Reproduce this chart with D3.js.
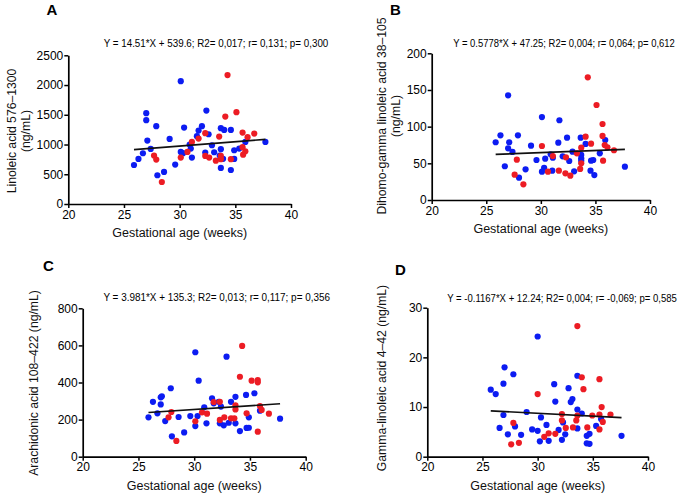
<!DOCTYPE html>
<html><head><meta charset="utf-8">
<script src="https://cdn.jsdelivr.net/npm/d3@7"></script>
<style>
body{margin:0;background:#fff;}
svg{display:block;font-family:"Liberation Sans",Arial,sans-serif;}
</style></head>
<body><svg id="c" width="685" height="497"></svg>
<script>
// ---------- DATA ----------
const panelLetters = ["A","B","C","D"];
const yLabels = [
  ["Linoleic acid 576\u20131300","(ng/mL)"],
  ["Dihomo-gamma linoleic acid 38\u2013105","(ng/mL)"],
  ["Arachidonic acid 108\u2013422 (ng/mL)"],
  ["Gamma-linoleic acid 4\u201342 (ng/mL)"]
];
const xLabel = "Gestational age (weeks)";
const equations = [
  "Y = 14.51*X + 539.6; R2= 0,017; r= 0,131; p= 0,300",
  "Y = 0.5778*X + 47.25; R2= 0,004; r= 0,064; p= 0,612",
  "Y = 3.981*X + 135.3; R2= 0,013; r= 0,117; p= 0,356",
  "Y = -0.1167*X + 12.24; R2= 0,004; r= -0,069; p= 0,585"
];
const slopes = [14.51, 0.5778, 3.981, -0.1167];
const intercepts = [539.6, 47.25, 135.3, 12.24];
const xTicks = [20,25,30,35,40];
const yTicksA = [0,500,1000,1500,2000,2500];
const yTicksB = [0,50,100,150,200];
const yTicksC = [0,200,400,600,800];
const yTicksD = [0,10,20,30];

const aBlue = [[25.9,656],[26.3,758],[26.7,853],[27.0,1527],[27.0,1409],[27.1,1066],[27.4,926],[27.9,1308],[28.0,483],[28.6,539],[29.1,1094],[29.6,662],[30.1,2065],[30.1,876],[30.3,854],[30.4,1285],[30.9,999],[31.0,931],[31.1,780],[31.55,1140],[31.7,1235],[32.0,1308],[32.3,864],[32.4,1571],[32.6,1173],[32.9,988],[33.1,870],[33.6,814],[33.7,921],[33.7,1275],[33.7,606],[33.9,760],[34.0,1246],[34.6,1246],[34.6,572],[34.9,904],[34.9,758],[35.35,931],[35.9,1044],[37.7,1044]];
const aRed = [[27.7,814],[27.9,747],[28.4,370],[30.1,780],[30.7,876],[31.1,1044],[31.7,1100],[32.3,1190],[32.3,808],[32.65,780],[33.25,729],[33.55,1134],[33.7,808],[33.7,753],[34.1,1470],[34.3,2167],[34.6,753],[35.1,1544],[35.65,1201],[35.65,955],[35.7,830],[35.9,887],[36.1,1123],[36.7,1184]];

const bBlue = [[25.86,78.7],[26.3,88.2],[26.7,46],[27.0,142.7],[27.0,70.5],[27.1,78.7],[27.4,65.5],[27.9,88.2],[28.0,30.4],[28.6,41.8],[29.1,74],[29.6,54.5],[30.1,113],[30.1,38.6],[30.3,44],[30.4,56.4],[30.9,62.3],[31.05,40],[31.1,57.7],[31.6,78.2],[31.7,108.7],[32.0,59.6],[32.4,85],[32.6,53.2],[32.9,65.9],[33.05,39.1],[33.65,85],[33.7,61.4],[33.7,56.8],[33.7,53.6],[34.1,76.4],[34.55,40],[34.6,53.6],[34.8,54.5],[34.9,34],[35.4,63.6],[35.9,81.8],[37.7,45.4]];
const bRed = [[27.6,34.5],[27.8,55],[28.4,21.4],[30.1,73.6],[30.65,38.6],[31.1,60],[31.65,40],[32.25,36.4],[32.3,58.2],[32.7,33.2],[33.3,63.6],[33.6,42.3],[33.7,50],[33.7,71.4],[34.1,86.4],[34.3,167.3],[34.6,76.8],[35.1,129.5],[35.65,103.6],[35.65,87.3],[35.7,53.6],[35.85,75],[36.1,71.8],[36.7,67.8]];

const cBlue = [[25.9,212],[26.3,296],[26.7,234],[27.0,320],[27.1,326],[27.0,282],[27.4,192],[27.9,369],[28.0,110],[28.6,214],[29.1,131],[29.65,219],[30.1,563],[30.1,165],[30.3,219],[30.4,410],[30.9,266],[31.1,180],[31.6,315],[31.75,288],[32.2,296],[32.4,270],[32.3,180],[32.65,169],[32.9,539],[33.1,183],[33.3,296],[33.7,323],[33.7,180],[34.1,138],[34.65,333],[34.7,155],[34.9,156],[34.9,212],[35.4,342],[35.9,248],[37.7,205]];
const cRed = [[34.3,597],[34.1,431],[35.15,410],[35.7,413],[35.7,401],[27.95,241],[27.7,212],[28.4,85],[30.1,191],[30.7,239],[31.15,232],[31.75,295],[32.3,296],[32.3,198],[32.7,212],[33.3,207],[33.6,207],[33.7,277],[33.7,255],[34.7,234],[35.7,135],[35.9,273],[36.05,252],[36.7,232]];

const dBlue = [[25.75,13.5],[26.2,12.6],[26.55,5.8],[26.9,14.7],[27.0,18.0],[26.9,8.4],[27.3,4.5],[27.8,16.6],[27.95,6.1],[28.5,4.4],[29.0,9.0],[29.5,5.5],[30.0,24.2],[30.0,5.2],[30.3,7.9],[30.2,3.1],[30.8,6.4],[31.0,3.2],[31.5,14.6],[31.6,11.1],[31.9,5.4],[32.2,3.4],[32.5,4.5],[32.3,6.9],[32.8,13.8],[33.0,11.0],[33.15,11.6],[33.6,16.3],[33.6,9.5],[34.0,8.7],[33.6,5.7],[34.45,4.2],[34.7,4.6],[34.45,2.7],[34.7,2.6],[35.3,6.2],[35.75,7.6],[37.6,4.2]];
const dRed = [[33.6,26.3],[34.0,16.0],[34.15,13.6],[35.6,15.6],[30.0,12.6],[27.8,6.8],[27.6,2.5],[28.3,2.8],[30.6,4.0],[31.0,4.7],[31.6,4.6],[32.2,8.6],[32.2,7.3],[32.55,5.8],[33.2,5.9],[33.5,7.3],[33.6,8.3],[34.5,5.9],[34.95,8.3],[35.6,8.5],[35.6,5.5],[35.8,10.0],[35.9,7.0],[36.6,8.5]];

// ---------- LAYOUT ----------
const BLUE = "#0c1cf2", RED = "#ec1c24";
const layouts = [
  {x0:68.3, x1:291, y0:204, y1:55.3, letter:[46.5,15], eq:[216,46.5,225], yl:[16,30], ylc:131, xl:237},
  {x0:431.7, x1:650, y0:200, y1:53.3, letter:[390,15], eq:[564,46.5,222], yl:[386,399.5], ylc:116, xl:233},
  {x0:82.7, x1:305.7, y0:456.7, y1:308.3, letter:[43,270.5], eq:[216.7,301,227], yl:[37.5], ylc:383, xl:490},
  {x0:427.3, x1:648, y0:456.7, y1:307.7, letter:[395,275], eq:[562,302,230], yl:[386], ylc:378, xl:490}
];
const yTickSets = [yTicksA, yTicksB, yTicksC, yTicksD];
const blues = [aBlue, bBlue, cBlue, dBlue];
const reds = [aRed, bRed, cRed, dRed];

const svg = d3.select("#c");

layouts.forEach((L, i) => {
  const yt = yTickSets[i];
  const x = d3.scaleLinear().domain([xTicks[0], xTicks[xTicks.length-1]]).range([L.x0, L.x1]);
  const y = d3.scaleLinear().domain([yt[0], yt[yt.length-1]]).range([L.y0, L.y1]);
  const g = svg.append("g");

  const xa = g.append("g").attr("transform", `translate(0,${L.y0})`)
    .call(d3.axisBottom(x).tickValues(xTicks).tickFormat(d3.format("d")).tickSize(4).tickSizeOuter(0).tickPadding(2));
  const ya = g.append("g").attr("transform", `translate(${L.x0},0)`)
    .call(d3.axisLeft(y).tickValues(yt).tickFormat(d3.format("d")).tickSize(4).tickSizeOuter(0).tickPadding(1));
  [xa, ya].forEach(a => {
    a.select(".domain").attr("stroke", "#000").attr("stroke-width", 1.7);
    a.selectAll(".tick line").attr("stroke", "#000").attr("stroke-width", 1.5);
    a.selectAll(".tick text").attr("fill", "#000").style("font-size", "12px")
      .style("font-family", '"Liberation Sans",Arial,sans-serif');
  });

  // points
  g.selectAll(".b").data(blues[i]).join("circle")
    .attr("cx", d => x(d[0])).attr("cy", d => y(d[1])).attr("r", 3.1).attr("fill", BLUE);
  g.selectAll(".r").data(reds[i]).join("circle")
    .attr("cx", d => x(d[0])).attr("cy", d => y(d[1])).attr("r", 3.1).attr("fill", RED);

  // regression line
  const all = blues[i].concat(reds[i]);
  const xe = d3.extent(all, d => d[0]);
  g.append("line")
    .attr("x1", x(xe[0])).attr("y1", y(slopes[i]*xe[0] + intercepts[i]))
    .attr("x2", x(xe[1])).attr("y2", y(slopes[i]*xe[1] + intercepts[i]))
    .attr("stroke", "#111").attr("stroke-width", 1.7);

  // equation (horizontally condensed via scale so its box matches the target width)
  const eq = g.append("text").attr("x", 0).attr("y", 0).attr("text-anchor", "middle")
    .style("font-size", "10px").attr("fill", "#000").text(equations[i]);
  const natural = eq.node().getComputedTextLength();
  const sx = L.eq[2] / natural;
  eq.attr("transform", `translate(${L.eq[0]},${L.eq[1]}) scale(${sx},1)`);

  // panel letter
  g.append("text").attr("x", L.letter[0]).attr("y", L.letter[1])
    .style("font-size", "15px").style("font-weight", "bold").attr("fill", "#000")
    .text(panelLetters[i]);

  // y label
  yLabels[i].forEach((t, k) => {
    g.append("text").attr("transform", `translate(${L.yl[k]},${L.ylc}) rotate(-90)`)
      .attr("text-anchor", "middle").style("font-size", "12.2px").attr("fill", "#111").text(t);
  });

  // x label
  g.append("text").attr("x", (L.x0 + L.x1)/2).attr("y", L.xl).attr("text-anchor", "middle")
    .style("font-size", "12.5px").attr("fill", "#111").text(xLabel);
});
</script></body></html>
